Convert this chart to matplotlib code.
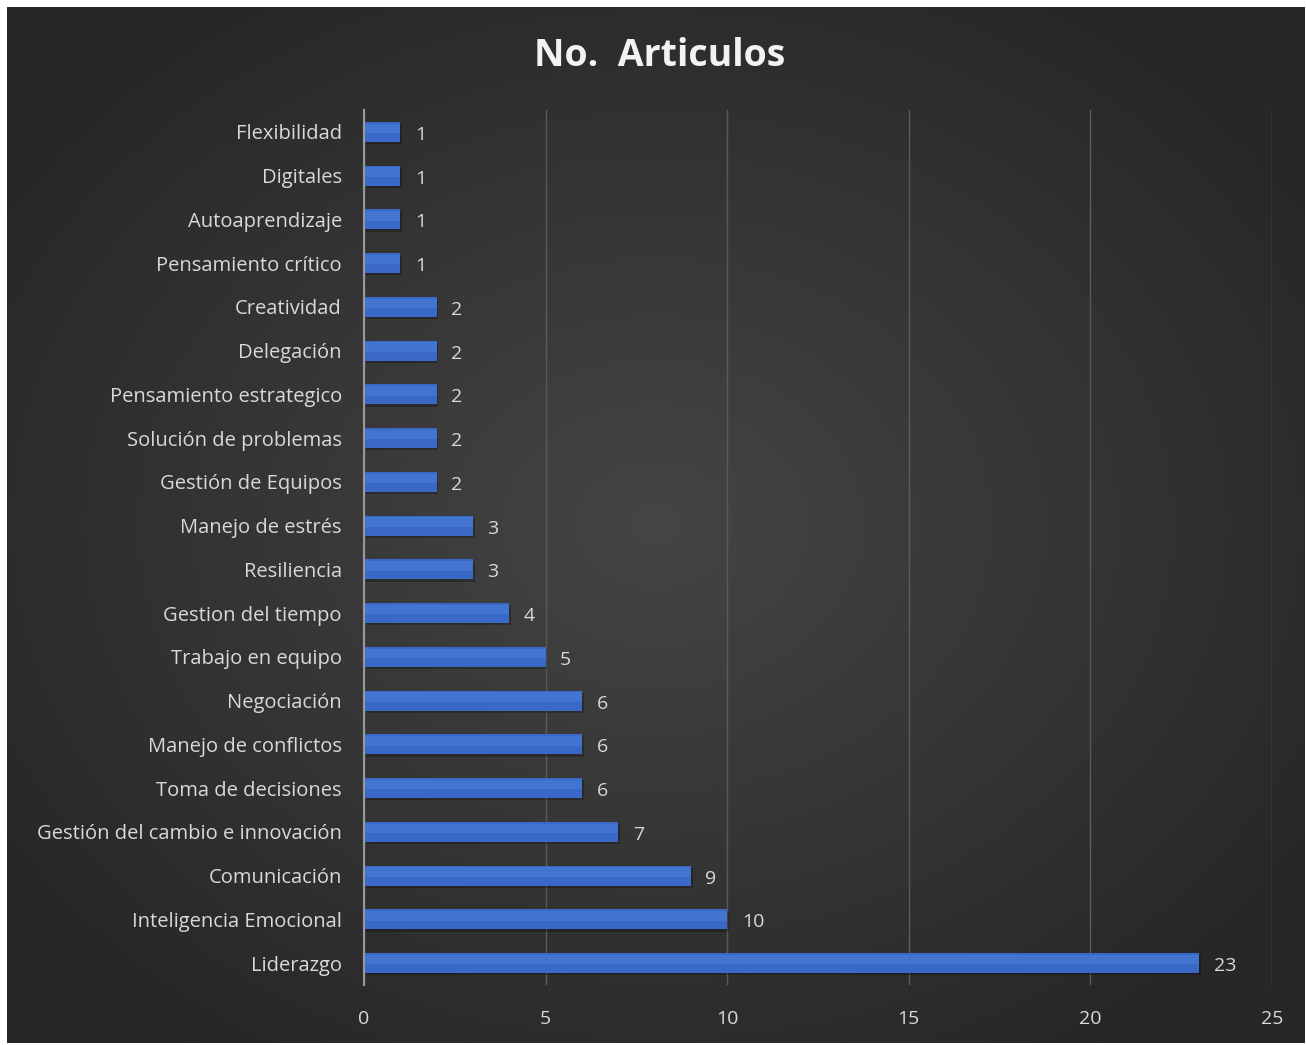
import numpy as np
import matplotlib.pyplot as plt

# datos (de abajo hacia arriba)
categorias = ["Liderazgo", "Inteligencia Emocional", "Comunicación",
              "Gestión del cambio e innovación", "Toma de decisiones",
              "Manejo de conflictos", "Negociación", "Trabajo en equipo",
              "Gestion del tiempo", "Resiliencia", "Manejo de estrés",
              "Gestión de Equipos", "Solución de problemas",
              "Pensamiento estrategico", "Delegación", "Creatividad",
              "Pensamiento crítico", "Autoaprendizaje", "Digitales",
              "Flexibilidad"]
articulos = [23, 10, 9, 7, 6, 6, 6, 5, 4, 3, 3, 2, 2, 2, 2, 2, 1, 1, 1, 1]
xticks = [0, 5, 10, 15, 20, 25]

plt.rcParams['font.family'] = ['Open Sans', 'DejaVu Sans']
txt = "#d9d9d9"

fig = plt.figure(figsize=(13.06, 10.45), dpi=100)
fig.patch.set_facecolor("white")

# fondo oscuro con degradado radial
bg = fig.add_axes([7 / 1306, 2 / 1045, 1298 / 1306, 1036 / 1045])
bg.set_axis_off()
yy, xx = np.mgrid[-1:1:400j, -1:1:500j]
r = np.sqrt(xx ** 2 + yy ** 2)
shade = np.clip(1 - r / 1.2, 0, 1)
c0 = np.array([0x27, 0x27, 0x27]) / 255
c1 = np.array([0x45, 0x45, 0x45]) / 255
img = c0 + (c1 - c0) * shade[..., None]
bg.imshow(img, aspect="auto", extent=[0, 1, 0, 1])
bg.set_xlim(0, 1)
bg.set_ylim(0, 1)

ax = fig.add_axes([364 / 1306, 60 / 1045, 908 / 1306, 875 / 1045])
ax.patch.set_alpha(0)

y = np.arange(len(categorias))
# sombra
ax.barh(y - 0.05, articulos, height=0.46, left=0.05, color="black", alpha=0.25, zorder=2)
ax.barh(y, articulos, height=0.46, color="#3a68c6", zorder=3)
ax.barh(y + 0.08, articulos, height=0.22, color="#4275d0", zorder=3)

for yi, v in zip(y, articulos):
    ax.text(v + 0.4, yi - 0.07, str(v), color=txt, fontsize=14, va="center", ha="left")

ax.set_xlim(0, 25)
ax.set_ylim(-0.5, len(categorias) - 0.5)
ax.set_xticks(xticks)
ax.set_xticklabels([str(t) for t in xticks], color=txt, fontsize=14)
ax.set_yticks(y)
ax.set_yticklabels(categorias, color=txt, fontsize=14.5)
ax.tick_params(length=0)
ax.tick_params(axis="x", pad=18)
ax.tick_params(axis="y", pad=16)
ax.grid(axis="x", color="#5a5a5a", linewidth=1, zorder=0)
for s in ["top", "right", "bottom"]:
    ax.spines[s].set_visible(False)
ax.spines["left"].set_color("#999999")
ax.spines["left"].set_linewidth(1.5)
ax.spines["left"].set_zorder(4)

fig.text(0.505, 0.946, "No.  Articulos", color="#f2f2f2", fontsize=27,
         fontweight="bold", ha="center", va="center")

fig.savefig("out.png", dpi=100)
